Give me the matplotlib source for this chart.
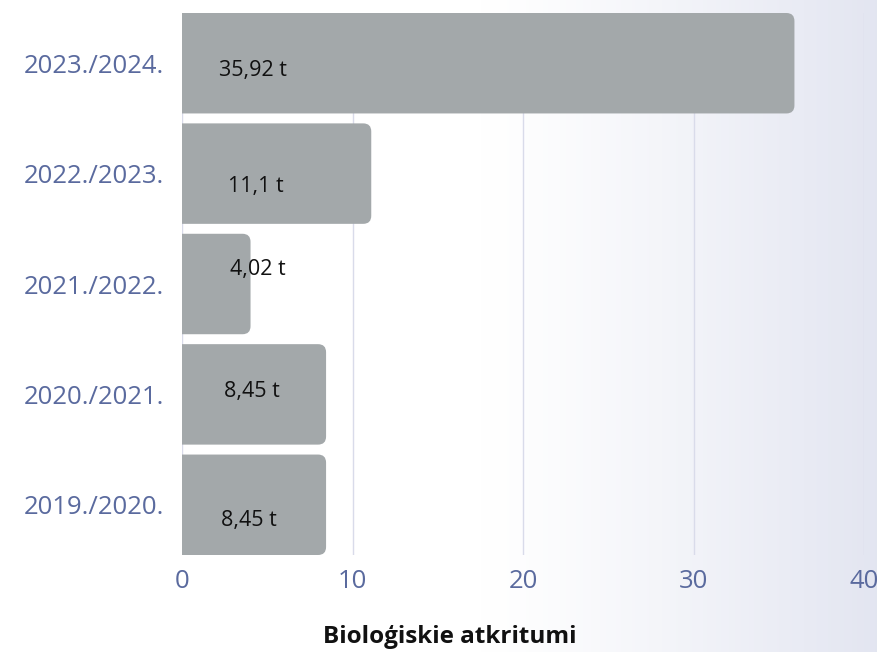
import numpy as np
import matplotlib
matplotlib.use("Agg")
import matplotlib.pyplot as plt
from matplotlib.patches import PathPatch
from matplotlib.path import Path

plt.rcParams['font.family'] = ['Open Sans', 'DejaVu Sans']

# season totals, top to bottom
seasons = ["2023./2024.", "2022./2023.", "2021./2022.", "2020./2021.", "2019./2020."]
tonnes = [35.92, 11.1, 4.02, 8.45, 8.45]
labels = ["35,92 t", "11,1 t", "4,02 t", "8,45 t", "8,45 t"]

# where each value label sits, pixels from the bar's left end / centre
lab_dx = [71, 74, 76, 70, 67]
lab_dy = [-7, -13, 14, 3, -16]

bar_col = "#a3a8aa"
tick_col = "#5a6a9e"
grid_col = "#d9dbea"

fig = plt.figure(figsize=(8.77, 6.52), dpi=100)

# soft white -> lavender wash behind everything
bg = fig.add_axes([0, 0, 1, 1], zorder=-10)
xs = np.linspace(0, 1, 400)
t = np.clip((xs - 0.55) / 0.45, 0, 1) ** 1.2
c0 = np.array([1.0, 1.0, 1.0])
c1 = np.array([0.89, 0.90, 0.945])
grad = c0[None, :] * (1 - t[:, None]) + c1[None, :] * t[:, None]
bg.imshow(grad[None, :, :], aspect='auto', extent=[0, 1, 0, 1])
bg.axis('off')

ax = fig.add_axes([182 / 877, (652 - 555) / 652, (864 - 182) / 877, (555 - 13) / 652])
ax.patch.set_alpha(0)

h = 0.91
y = np.arange(len(seasons))[::-1]
bars = ax.barh(y, tonnes, height=h, color=bar_col)

ax.set_xlim(0, 40)
ax.set_ylim(-h / 2, len(seasons) - 1 + h / 2)

# swap the plain bars for ones rounded on the right end only
px_x = (864 - 182) / 40.0
px_y = 110.0
rx = 8 / px_x
ry = 8 / px_y
for rect in bars:
    x0, y0 = rect.get_x(), rect.get_y()
    x1, y1 = x0 + rect.get_width(), y0 + rect.get_height()
    rect.set_visible(False)
    verts = [(x0, y0), (x1 - rx, y0), (x1, y0), (x1, y0 + ry),
             (x1, y1 - ry), (x1, y1), (x1 - rx, y1), (x0, y1), (x0, y0)]
    codes = [Path.MOVETO, Path.LINETO, Path.CURVE3, Path.CURVE3,
             Path.LINETO, Path.CURVE3, Path.CURVE3, Path.LINETO, Path.CLOSEPOLY]
    ax.add_patch(PathPatch(Path(verts, codes), fc=bar_col, ec='none', zorder=2))

for yi, lab, dx, dy in zip(y, labels, lab_dx, lab_dy):
    ax.annotate(lab, xy=(0, yi), xytext=(dx, dy), textcoords='offset pixels',
                ha='center', va='center', fontsize=15.5, color='#111111', zorder=3)

ax.set_xticks([0, 10, 20, 30, 40])
ax.grid(axis='x', color=grid_col, lw=1, zorder=0)
ax.set_axisbelow(True)
ax.set_yticks(y)
ax.set_yticklabels(seasons)
ax.tick_params(axis='both', length=0, labelsize=18.5, labelcolor=tick_col)
ax.tick_params(axis='y', pad=13)
ax.tick_params(axis='x', pad=10)
for s in ax.spines.values():
    s.set_visible(False)

fig.text(450 / 877, 1 - 637 / 652, "Bioloģiskie atkritumi", ha='center', va='center',
         fontsize=17.5, fontweight='bold', color='#111111')

fig.savefig("out.png", dpi=100)
